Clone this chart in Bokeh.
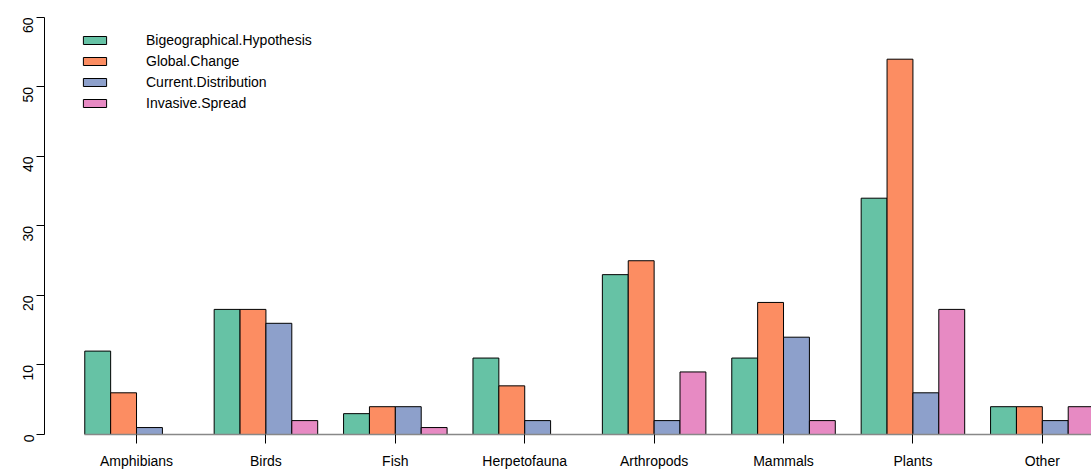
import math
from bokeh.plotting import figure
from bokeh.models import (ColumnDataSource, FixedTicker, Legend, LegendItem,
                          Range1d, LinearAxis)
from bokeh.embed import file_html
from bokeh.resources import INLINE

# ---- data ----
categories = ["Amphibians", "Birds", "Fish", "Herpetofauna",
              "Arthropods", "Mammals", "Plants", "Other"]
series_names = ["Bigeographical.Hypothesis", "Global.Change",
                "Current.Distribution", "Invasive.Spread"]
bigeographical = [12, 18, 3, 11, 23, 11, 34, 4]
global_change = [6, 18, 4, 7, 25, 19, 54, 4]
current_distribution = [1, 16, 4, 2, 2, 14, 6, 2]
invasive_spread = [0, 2, 1, 0, 9, 2, 18, 4]
y_ticks = [0, 10, 20, 30, 40, 50, 60]

series_values = [bigeographical, global_change, current_distribution, invasive_spread]
colors = ["#66C2A5", "#FC8D62", "#8DA0CB", "#E78AC3"]

FONT = "Liberation Sans"

# R barplot(beside=TRUE) layout: each group = space of 1 + n bars of width 1
n_series = len(series_names)
group_width = n_series + 1
group_starts = [1 + group_width * i for i in range(len(categories))]
group_centers = [s + n_series / 2 for s in group_starts]

p = figure(width=1091, height=473, output_backend="svg", toolbar_location=None,
           x_range=Range1d(-0.556, 39.90), y_range=Range1d(0, 62.446),
           x_axis_location=None, y_axis_location=None,
           min_border_left=44, min_border_right=0, min_border_top=0,
           min_border_bottom=39)
p.outline_line_color = None
p.xgrid.visible = False
p.ygrid.visible = False
p.background_fill_color = "white"
p.border_fill_color = "white"

renderers = []
for j, (vals, col) in enumerate(zip(series_values, colors)):
    src = ColumnDataSource(dict(x=[s + j + 0.5 for s in group_starts], top=vals))
    r = p.vbar(x="x", top="top", bottom=0, width=1, source=src,
               fill_color=col, line_color="black", line_width=1)
    renderers.append(r)

# y axis
yaxis = LinearAxis(ticker=FixedTicker(ticks=y_ticks), bounds=(0, 60))
yaxis.major_label_orientation = math.pi / 2
yaxis.major_tick_in = 0
yaxis.major_tick_out = 8
yaxis.minor_tick_out = 0
yaxis.minor_tick_in = 0
yaxis.axis_line_color = "black"
yaxis.major_tick_line_color = "black"
yaxis.major_label_text_font = FONT
yaxis.major_label_text_font_size = "14px"
yaxis.major_label_text_color = "black"
yaxis.major_label_standoff = 8
p.add_layout(yaxis, "left")

# x axis
xaxis = LinearAxis(ticker=FixedTicker(ticks=group_centers), bounds=(1, 45))
xaxis.major_label_overrides = {c: name for c, name in zip(group_centers, categories)}
xaxis.axis_line_color = "#888888"
xaxis.axis_line_width = 1.5
xaxis.major_tick_in = 0
xaxis.major_tick_out = 9
xaxis.minor_tick_out = 0
xaxis.minor_tick_in = 0
xaxis.major_tick_line_color = "black"
xaxis.major_label_text_font = FONT
xaxis.major_label_text_font_size = "14px"
xaxis.major_label_text_color = "black"
xaxis.major_label_standoff = 9
p.add_layout(xaxis, "below")

legend = Legend(items=[LegendItem(label=n, renderers=[r])
                       for n, r in zip(series_names, renderers)],
                location=(36, 323))
legend.glyph_width = 29
legend.glyph_height = 10
legend.label_height = 17
legend.spacing = 4
legend.padding = 0
legend.margin = 0
legend.label_standoff = 37
legend.border_line_color = None
legend.background_fill_alpha = 0
legend.label_text_font = FONT
legend.label_text_font_size = "14px"
legend.label_text_color = "black"
p.add_layout(legend, "center")

open("out.html", "w").write(file_html(p, INLINE))
